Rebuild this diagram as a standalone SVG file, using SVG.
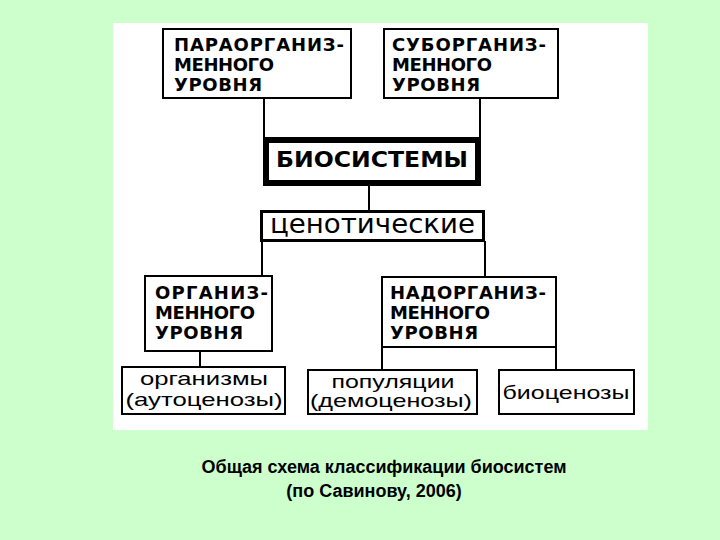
<svg xmlns="http://www.w3.org/2000/svg" width="720" height="540" viewBox="0 0 720 540">
<style>
.bg{fill:#ccffcc}
.panel{fill:#ffffff}
.box{fill:#ffffff;stroke:#000;stroke-width:2}
.ln{stroke:#000;stroke-width:2;fill:none}
.cap{font-family:"DejaVu Sans",sans-serif;font-weight:bold;font-size:18px;fill:#000}
.big{font-family:"DejaVu Sans",sans-serif;font-weight:bold;font-size:21px;fill:#000}
.cen{font-family:"DejaVu Sans",sans-serif;font-size:26px;fill:#000}
.sm{font-family:"Liberation Sans",Arial,sans-serif;font-size:19px;fill:#000}
.capt{font-family:"Liberation Sans",Arial,sans-serif;font-weight:bold;font-size:18px;fill:#000}
</style>
<rect class="bg" x="0" y="0" width="720" height="540"/>
<rect class="panel" x="113" y="23" width="535" height="407"/>
<g id="connectors">
<line class="ln" x1="264" y1="98" x2="264" y2="140"/>
<line class="ln" x1="480" y1="98" x2="480" y2="140"/>
<line class="ln" x1="369" y1="186" x2="369" y2="211"/>
<line class="ln" x1="262" y1="241" x2="262" y2="276"/>
<line class="ln" x1="485" y1="241" x2="485" y2="277"/>
<line class="ln" x1="200" y1="351" x2="200" y2="367"/>
<line class="ln" x1="382" y1="347" x2="382" y2="370"/>
<line class="ln" x1="556" y1="347" x2="556" y2="370"/>
</g>
<g id="para">
<rect class="box" x="163" y="29" width="188" height="69"/>
<text class="cap" x="174" y="51" textLength="170" lengthAdjust="spacing">ПАРАОРГАНИЗ-</text>
<text class="cap" x="174" y="71" textLength="100" lengthAdjust="spacing">МЕННОГО</text>
<text class="cap" x="174" y="91" textLength="88" lengthAdjust="spacing">УРОВНЯ</text>
</g>
<g id="sub">
<rect class="box" x="384" y="29" width="174" height="69"/>
<text class="cap" x="392" y="51" textLength="154" lengthAdjust="spacing">СУБОРГАНИЗ-</text>
<text class="cap" x="392" y="71" textLength="100" lengthAdjust="spacing">МЕННОГО</text>
<text class="cap" x="392" y="91" textLength="88" lengthAdjust="spacing">УРОВНЯ</text>
</g>
<g id="bio">
<rect x="266" y="140" width="212" height="43" fill="#fff" stroke="#000" stroke-width="6"/>
<text class="big" x="276" y="167" textLength="192" lengthAdjust="spacingAndGlyphs">БИОСИСТЕМЫ</text>
</g>
<g id="cen">
<rect x="261.5" y="211.5" width="222" height="29" fill="#fff" stroke="#000" stroke-width="3"/>
<text class="cen" x="270" y="233" textLength="205" lengthAdjust="spacingAndGlyphs">ценотические</text>
</g>
<g id="org">
<rect class="box" x="145" y="276" width="127" height="75"/>
<text class="cap" x="155" y="299" textLength="113" lengthAdjust="spacing">ОРГАНИЗ-</text>
<text class="cap" x="155" y="319" textLength="100" lengthAdjust="spacing">МЕННОГО</text>
<text class="cap" x="155" y="339" textLength="88" lengthAdjust="spacing">УРОВНЯ</text>
</g>
<g id="nadorg">
<rect class="box" x="382" y="277" width="174" height="70"/>
<text class="cap" x="390" y="299" textLength="156" lengthAdjust="spacing">НАДОРГАНИЗ-</text>
<text class="cap" x="390" y="319" textLength="100" lengthAdjust="spacing">МЕННОГО</text>
<text class="cap" x="390" y="339" textLength="88" lengthAdjust="spacing">УРОВНЯ</text>
</g>
<g id="organizmy">
<rect class="box" x="122" y="367" width="163" height="47"/>
<text class="sm" x="204" y="385" text-anchor="middle" textLength="128" lengthAdjust="spacingAndGlyphs">организмы</text>
<text class="sm" x="204" y="406" text-anchor="middle" textLength="157" lengthAdjust="spacingAndGlyphs">(аутоценозы)</text>
</g>
<g id="populyatsii">
<rect class="box" x="308" y="370" width="169" height="44"/>
<text class="sm" x="393" y="388" text-anchor="middle" textLength="123" lengthAdjust="spacingAndGlyphs">популяции</text>
<text class="sm" x="391" y="407" text-anchor="middle" textLength="162" lengthAdjust="spacingAndGlyphs">(демоценозы)</text>
</g>
<g id="biotsenozy">
<rect class="box" x="499" y="370" width="135" height="44"/>
<text class="sm" x="566" y="399" text-anchor="middle" textLength="127" lengthAdjust="spacingAndGlyphs">биоценозы</text>
</g>
<g id="caption">
<text class="capt" x="384" y="473" text-anchor="middle">Общая схема классификации биосистем</text>
<text class="capt" x="374" y="497" text-anchor="middle">(по Савинову, 2006)</text>
</g>
</svg>
